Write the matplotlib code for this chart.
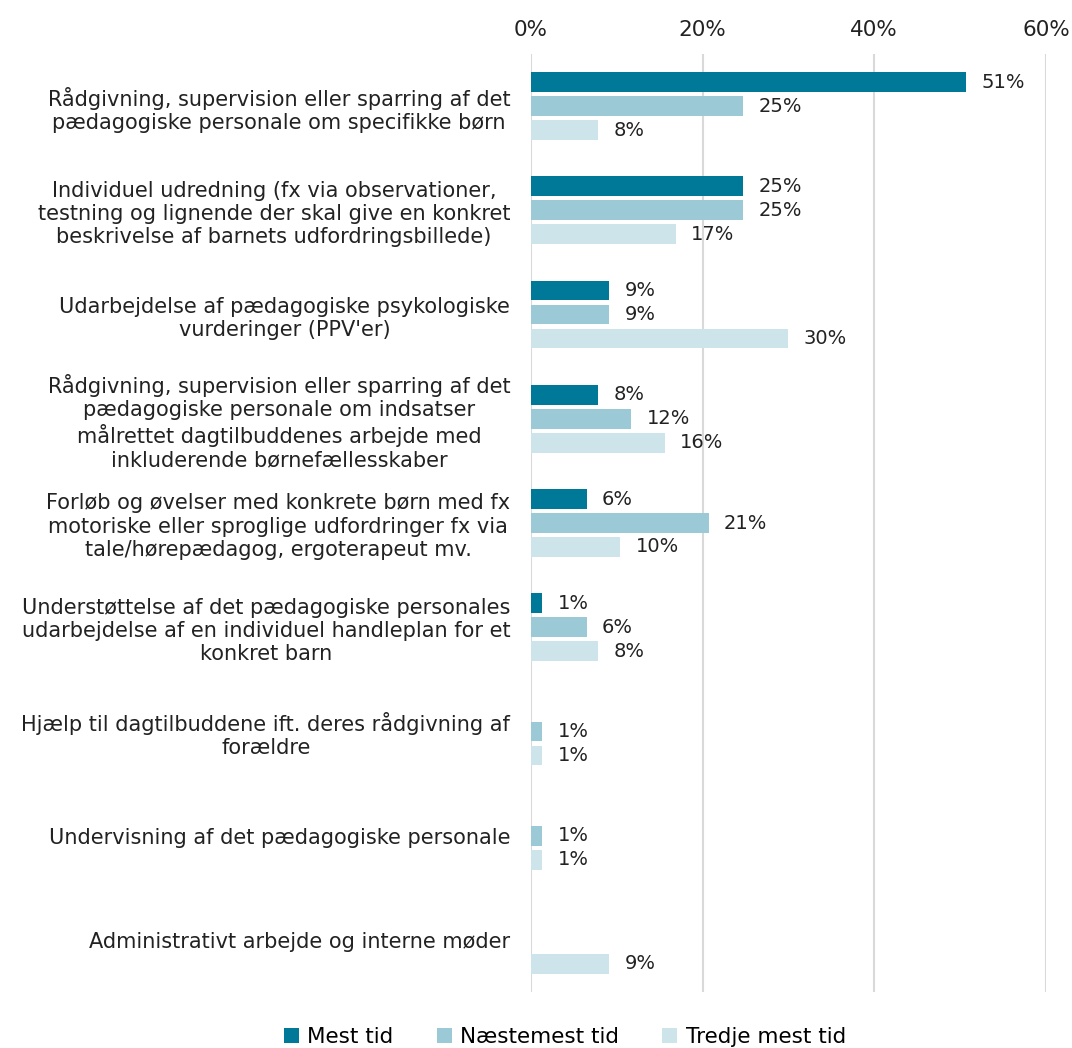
import numpy as np
import matplotlib.pyplot as plt

categories = [
    "Rådgivning, supervision eller sparring af det\npædagogiske personale om specifikke børn",
    "Individuel udredning (fx via observationer,\ntestning og lignende der skal give en konkret\nbeskrivelse af barnets udfordringsbillede)",
    "Udarbejdelse af pædagogiske psykologiske\nvurderinger (PPV'er)",
    "Rådgivning, supervision eller sparring af det\npædagogiske personale om indsatser\nmålrettet dagtilbuddenes arbejde med\ninkluderende børnefællesskaber",
    "Forløb og øvelser med konkrete børn med fx\nmotoriske eller sproglige udfordringer fx via\ntale/hørepædagog, ergoterapeut mv.",
    "Understøttelse af det pædagogiske personales\nudarbejdelse af en individuel handleplan for et\nkonkret barn",
    "Hjælp til dagtilbuddene ift. deres rådgivning af\nforældre",
    "Undervisning af det pædagogiske personale",
    "Administrativt arbejde og interne møder",
]
series = ["Mest tid", "Næstemest tid", "Tredje mest tid"]
mest = [50.7, 24.7, 9.1, 7.8, 6.5, 1.3, 0, 0, 0]
naestemest = [24.7, 24.7, 9.1, 11.7, 20.7, 6.5, 1.3, 1.3, 0]
tredje = [7.8, 16.9, 30.0, 15.6, 10.4, 7.8, 1.3, 1.3, 9.1]
colors = ["#007898", "#9BCAD6", "#CEE4EB"]

plt.rcParams['font.family'] = ['DejaVu Sans']
fig = plt.figure(figsize=(10.72, 10.48), dpi=100)
ax = fig.add_axes([0.4953, 0.0534, 0.4804, 0.8951])

y = np.arange(len(categories))
step = 0.23
h = 0.19
for i, (vals, name, c) in enumerate(zip([mest, naestemest, tredje], series, colors)):
    bars = ax.barh(y + (i - 1) * step, vals, height=h, color=c, label=name, zorder=3)
    labels = [f"{round(v)}%" if v > 0 else "" for v in vals]
    ax.bar_label(bars, labels=labels, padding=11, fontsize=14, color="#222222")

ax.set_ylim(len(categories) - 0.5, -0.5)
ax.set_xlim(0, 60)
ax.set_xticks([0, 20, 40, 60])
ax.set_xticklabels(["0%", "20%", "40%", "60%"])
ax.xaxis.tick_top()
ax.tick_params(axis='x', length=0, pad=10, labelsize=15.5, labelcolor="#222222")
ax.set_yticks(y)
ax.set_yticklabels(categories, multialignment='center', fontsize=15, color="#222222")
ax.tick_params(axis='y', length=0, pad=15)
ax.grid(axis='x', color="#D9D9D9", linewidth=1.5, zorder=0)
for s in ax.spines.values():
    s.set_visible(False)

fig.legend(loc='lower center', bbox_to_anchor=(0.527, -0.018), ncol=3, frameon=False,
           fontsize=15.5, handlelength=0.7, handleheight=0.7, handletextpad=0.4,
           columnspacing=2.0)

fig.savefig("out.png", dpi=100)
